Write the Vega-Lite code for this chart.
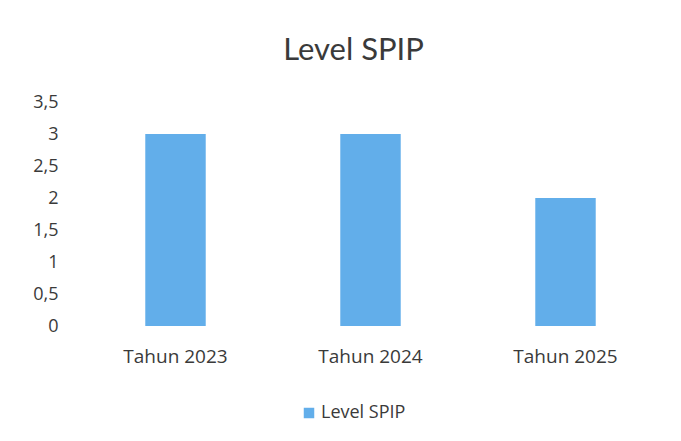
{
  "$schema": "https://vega.github.io/schema/vega-lite/v6.json",
  "autosize": "none",
  "width": 585,
  "height": 224,
  "padding": {"left": 78, "top": 102, "right": 18, "bottom": 115},
  "background": "white",
  "title": {
    "text": "Level SPIP",
    "font": "Lato",
    "fontSize": 31,
    "fontWeight": "normal",
    "color": "#3a3a3a",
    "anchor": "middle",
    "dx": -17,
    "offset": 26
  },
  "data": {
    "values": [
      {"tahun": "Tahun 2023", "level": 3, "series": "Level SPIP"},
      {"tahun": "Tahun 2024", "level": 3, "series": "Level SPIP"},
      {"tahun": "Tahun 2025", "level": 2, "series": "Level SPIP"}
    ]
  },
  "mark": {"type": "bar"},
  "encoding": {
    "x": {
      "field": "tahun",
      "type": "nominal",
      "sort": null,
      "scale": {"paddingInner": 0.69, "paddingOuter": 0.345},
      "axis": {
        "title": null,
        "labelAngle": 0,
        "ticks": false,
        "domain": false,
        "labelPadding": 21,
        "labelFont": "Open Sans",
        "labelFontSize": 19,
        "labelColor": "#3a3a3a"
      }
    },
    "y": {
      "field": "level",
      "type": "quantitative",
      "scale": {"domain": [0, 3.5], "nice": false},
      "axis": {
        "title": null,
        "values": [0, 0.5, 1, 1.5, 2, 2.5, 3, 3.5],
        "labelExpr": "replace(toString(datum.value), '.', ',')",
        "ticks": false,
        "domain": false,
        "grid": false,
        "labelPadding": 20,
        "labelFont": "Open Sans",
        "labelFontSize": 18,
        "labelColor": "#3a3a3a"
      }
    },
    "color": {
      "field": "series",
      "type": "nominal",
      "scale": {"range": ["#62aeea"]},
      "legend": {
        "title": null,
        "orient": "none",
        "legendX": 222,
        "legendY": 302,
        "symbolType": "square",
        "symbolSize": 110,
        "symbolStrokeWidth": 0,
        "labelFont": "Open Sans",
        "labelFontSize": 18,
        "labelColor": "#3a3a3a",
        "labelOffset": 3
      }
    }
  },
  "config": {
    "view": {"stroke": null}
  }
}
